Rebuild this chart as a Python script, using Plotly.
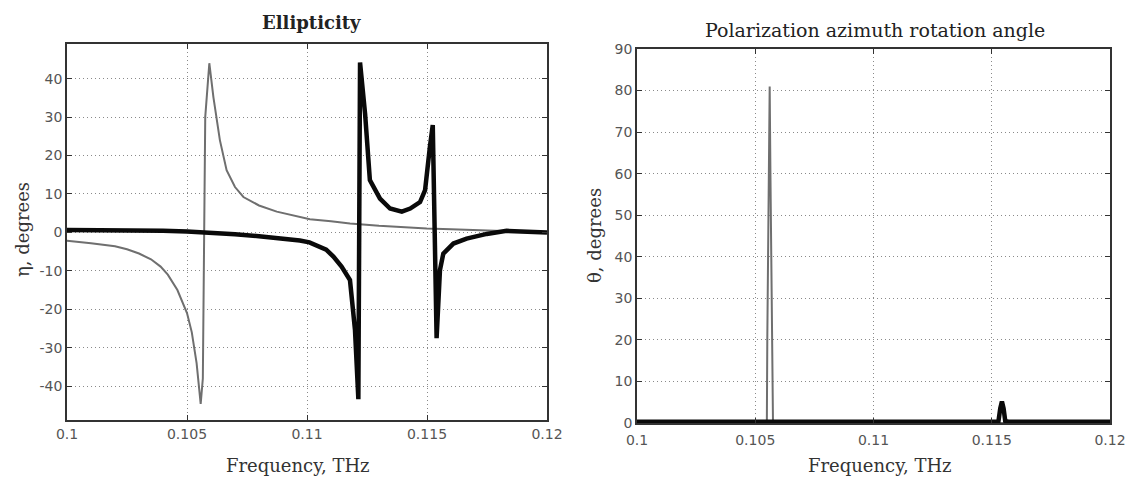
import plotly.graph_objects as go

# ---------------- data ----------------
x_ticks = [0.1, 0.105, 0.11, 0.115, 0.12]
x_tick_labels = ["0.1", "0.105", "0.11", "0.115", "0.12"]
eta_ticks = [-40, -30, -20, -10, 0, 10, 20, 30, 40]
eta_tick_labels = ["-40", "-30", "-20", "-10", "0", "10", "20", "30", "40"]
theta_ticks = [0, 10, 20, 30, 40, 50, 60, 70, 80, 90]
theta_tick_labels = ["0", "10", "20", "30", "40", "50", "60", "70", "80", "90"]

# Ellipticity, grey curve
eta_grey_f = [0.1000, 0.1010, 0.1020, 0.1025, 0.1030, 0.1035, 0.1039, 0.1042, 0.1046, 0.1048,
              0.1050, 0.1052, 0.1054, 0.10557, 0.10566, 0.10576, 0.10593, 0.1061, 0.10637, 0.10665,
              0.1070, 0.10735, 0.1080, 0.10874, 0.1095, 0.11012, 0.1110, 0.11179, 0.1130, 0.1140,
              0.11499, 0.1160, 0.1170, 0.1180, 0.1190]
eta_grey = [-2.2, -2.8, -3.6, -4.4, -5.5, -7.0, -8.9, -11.0, -15.0, -18.0,
            -21.0, -26.0, -34.0, -44.6, -38.0, 30.0, 44.0, 35.2, 24.0, 16.2,
            11.8, 9.2, 7.0, 5.4, 4.2, 3.4, 2.9, 2.3, 1.7, 1.3,
            1.0, 0.8, 0.6, 0.4, 0.2]

# Ellipticity, black curve
eta_black_f = [0.1000, 0.1020, 0.1040, 0.1050, 0.1060, 0.1070, 0.1080, 0.1090, 0.1097, 0.1101,
               0.1104, 0.1108, 0.1111, 0.11144, 0.11179, 0.1120, 0.11214, 0.11221, 0.11242, 0.11262,
               0.11304, 0.11346, 0.11395, 0.1143, 0.11471, 0.11492, 0.11512, 0.11524, 0.1154, 0.11554,
               0.11568, 0.1161, 0.11665, 0.11749, 0.11832, 0.11942, 0.1200]
eta_black = [0.6, 0.6, 0.4, 0.25, 0.0, -0.5, -1.0, -1.6, -2.1, -2.6,
             -3.3, -4.5, -6.3, -8.9, -12.4, -25.4, -43.4, 44.2, 30.9, 13.6,
             8.8, 6.2, 5.4, 6.2, 7.9, 11.0, 22.2, 27.9, -27.5, -9.8,
             -5.5, -2.9, -1.6, -0.4, 0.4, 0.2, 0.0]

# Rotation angle, grey curve
theta_grey_f = [0.1000, 0.10549, 0.10551, 0.10559, 0.10561, 0.10564, 0.10573, 0.10575, 0.1200]
theta_grey = [0.0, 0.0, 20.5, 61.0, 81.0, 61.0, 20.5, 0.0, 0.0]

# Rotation angle, black curve
theta_black_f = [0.1000, 0.1152, 0.11528, 0.11536, 0.11543, 0.11550, 0.11557, 0.1157, 0.1200]
theta_black = [0.3, 0.3, 0.3, 3.5, 5.2, 3.5, 0.5, 0.3, 0.3]

# ---------------- figure ----------------
OFF = 8                      # default page body margin
W, H = 1136 - 2 * OFF, 484 - 2 * OFF
GREY = "#6f6f6f"
BLACK = "#0a0a0a"
SERIF = "DejaVu Serif"
SANS = "DejaVu Sans"

fig = go.Figure()

fig.add_trace(go.Scatter(x=eta_grey_f, y=eta_grey, mode="lines",
                         line=dict(color=GREY, width=2), xaxis="x", yaxis="y", showlegend=False))
fig.add_trace(go.Scatter(x=eta_black_f, y=eta_black, mode="lines",
                         line=dict(color=BLACK, width=4.5), xaxis="x", yaxis="y", showlegend=False))
fig.add_trace(go.Scatter(x=theta_grey_f, y=theta_grey, mode="lines",
                         line=dict(color=GREY, width=2), xaxis="x2", yaxis="y2", showlegend=False))
fig.add_trace(go.Scatter(x=theta_black_f, y=theta_black, mode="lines",
                         line=dict(color=BLACK, width=4.5), xaxis="x2", yaxis="y2", showlegend=False))

def px_x(p):
    return (p - OFF) / W

def px_y(p):
    return 1 - (p - OFF) / H

axis_common = dict(
    automargin=False,
    showline=True, linecolor="#333333", linewidth=1.5, mirror="ticks",
    ticks="inside", ticklen=5, tickcolor="#333333", tickwidth=1,
    showgrid=True, gridcolor="#8a8a8a", griddash="1px,3px", gridwidth=1,
    zeroline=False,
    tickfont=dict(family=SANS, size=14, color="#555555"),
)

fig.update_layout(
    width=W, height=H,
    margin=dict(l=0, r=0, t=0, b=0, autoexpand=False),
    paper_bgcolor="white", plot_bgcolor="white",
    xaxis=dict(domain=[px_x(67), px_x(547)], range=[0.1, 0.12], anchor="y",
               tickvals=x_ticks, ticktext=x_tick_labels, **axis_common),
    yaxis=dict(domain=[px_y(420), px_y(44)], range=[-48.8, 49.0], anchor="x",
               tickvals=eta_ticks, ticktext=eta_tick_labels, **axis_common),
    xaxis2=dict(domain=[px_x(637), px_x(1110)], range=[0.1, 0.12], anchor="y2",
                tickvals=x_ticks, ticktext=x_tick_labels, ticklabelstandoff=3, **axis_common),
    yaxis2=dict(domain=[px_y(423), px_y(49)], range=[0, 90], anchor="x2",
                tickvals=theta_ticks, ticktext=theta_tick_labels, **axis_common),
)

annotations = [
    dict(text="<b>Ellipticity</b>", x=px_x(311), y=px_y(23), font=dict(family=SERIF, size=18, color="#222222")),
    dict(text="Polarization azimuth rotation angle", x=px_x(875), y=px_y(30),
         font=dict(family=SERIF, size=19, color="#222222")),
    dict(text="Frequency, THz", x=px_x(298), y=px_y(465), font=dict(family=SERIF, size=18, color="#333333")),
    dict(text="Frequency, THz", x=px_x(880), y=px_y(465), font=dict(family=SERIF, size=18, color="#333333")),
    dict(text="η, degrees", x=px_x(22), y=px_y(230), textangle=-90, font=dict(family=SERIF, size=18, color="#333333")),
    dict(text="θ, degrees", x=px_x(594), y=px_y(236), textangle=-90, font=dict(family=SERIF, size=18, color="#333333")),
]
for a in annotations:
    a.update(xref="paper", yref="paper", showarrow=False, xanchor="center", yanchor="middle")
fig.update_layout(annotations=annotations)

fig.write_html("out.html")
